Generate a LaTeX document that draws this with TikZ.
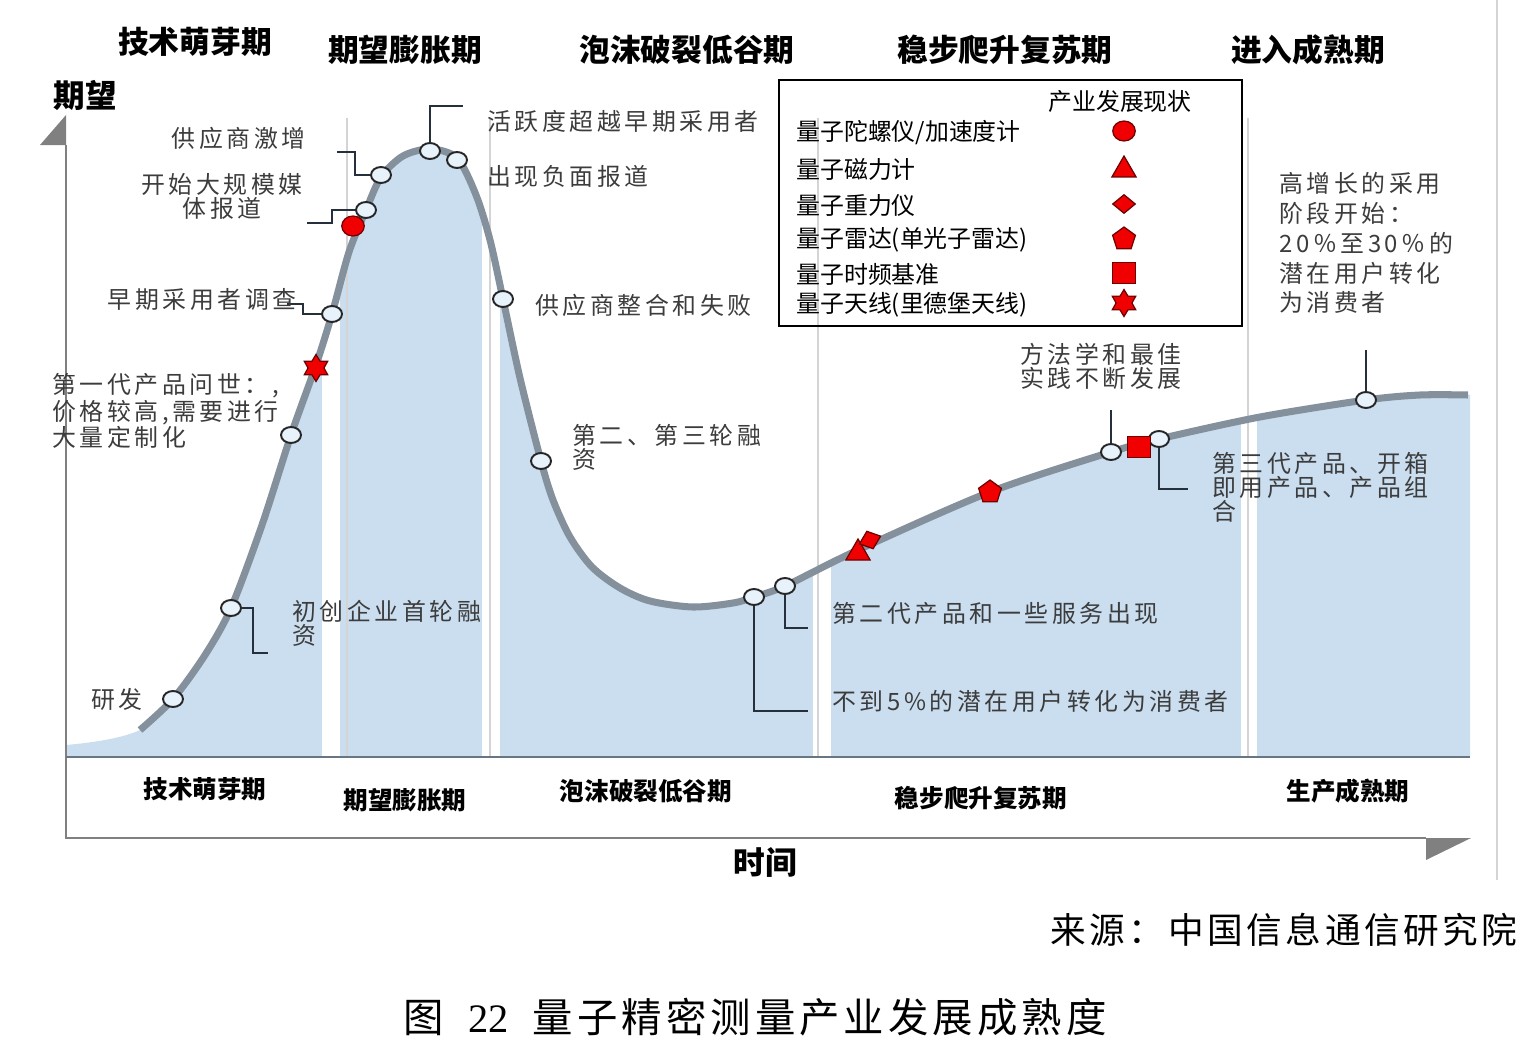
\documentclass[tikz,border=0pt]{standalone}
\usepackage{fontspec}
\setmainfont{Noto Sans CJK SC}
\newfontfamily\lblfont[LetterSpace=15]{Noto Sans CJK SC}
\newfontfamily\capfont[LetterSpace=10]{Noto Sans CJK SC}
\newfontfamily\numfont{Liberation Serif}
\usepackage{tikz}
\usetikzlibrary{shapes.geometric,positioning}
\definecolor{areablue}{RGB}{202,222,240}
\definecolor{curvegray}{RGB}{132,144,156}
\definecolor{axisgray}{RGB}{128,128,128}
\definecolor{basecol}{RGB}{104,118,132}
\definecolor{leadcol}{RGB}{38,48,60}
\definecolor{lblgray}{RGB}{60,60,60}
\definecolor{msfill}{RGB}{232,242,251}
\definecolor{mkred}{RGB}{240,0,0}
\definecolor{mkedge}{RGB}{110,0,0}
\definecolor{gridgray}{RGB}{212,212,212}

\begin{document}
\begin{tikzpicture}[x=0.02cm,y=-0.02cm,
  ms/.style={ellipse,draw=black!85,line width=1.1pt,fill=msfill,
             minimum width=0.4cm,minimum height=0.32cm,inner sep=0pt},
  mk/.style={draw=mkedge,fill=mkred,line width=0.7pt,inner sep=0pt},
  mkgyro/.style={mk,ellipse,minimum width=0.45cm,minimum height=0.4cm},
  mkmag/.style={mk,regular polygon,regular polygon sides=3,minimum size=0.56cm},
  mkgrav/.style={mk,diamond,minimum width=0.46cm,minimum height=0.38cm},
  mkradar/.style={mk,regular polygon,regular polygon sides=5,minimum size=0.48cm},
  mkclock/.style={mk,rectangle,minimum width=0.46cm,minimum height=0.42cm},
  mkant/.style={mk,star,star points=6,star point ratio=1.7,minimum size=0.54cm},
  lbl/.style={inner sep=0pt,text=lblgray,align=left,
              font=\lblfont\fontsize{13.6}{13.6}\selectfont},
  legtext/.style={inner sep=0pt,font=\fontsize{13.6}{15}\selectfont},
  phase/.style={inner sep=0pt,font=\bfseries\fontsize{17.5}{20}\selectfont},
  subphase/.style={inner sep=0pt,font=\bfseries\fontsize{14}{16}\selectfont},
  leader/.style={draw=leadcol,line width=1.1pt},
  divider/.style={draw=gridgray,line width=0.8pt}
]
\useasboundingbox (0,0) rectangle (1531,1061);

% Area under the hype curve
\fill[areablue] (66,745) .. controls (100,742) and (125,737) .. (140,730)
  -- plot[smooth] coordinates {(140,730) (173,699) (205,655) (231,608) (262,525)
     (291,435) (316,365) (332,314) (349,252) (366,210) (381,177) (403,156)
     (430,149) (457,158) (476,195) (490,240) (503,299) (520,378) (541,461)
     (553,500) (570,537) (592,567) (620,588) (650,601) (693,607) (733,603)
     (754,597) (785,586) (858,550) (990,492) (1111,452) (1159,439) (1260,417)
     (1366,400) (1420,395) (1470,395)}
  -- (1470,757) -- (66,757) -- cycle;

% Phase gaps and dividers
\fill[white] (322,110) rectangle (340,757);
\fill[white] (482,110) rectangle (500,757);
\fill[white] (813,110) rectangle (831,757);
\fill[white] (1241,110) rectangle (1257,757);
\draw[divider] (347,118) -- (347,757);
\draw[divider] (490,118) -- (490,757);
\draw[divider] (818,118) -- (818,757);
\draw[divider] (1248,118) -- (1248,757);
\draw[gridgray,line width=0.6pt] (1497,0) -- (1497,880);

% Axes
\draw[axisgray,line width=1.6pt] (66,145) -- (66,838) -- (1426,838);
\fill[axisgray] (40,145) -- (66,115) -- (66,145) -- cycle;
\fill[axisgray] (1426,838) -- (1471,838) -- (1426,860) -- cycle;
\draw[basecol,line width=1.6pt] (66,757) -- (1470,757);

% Hype curve
\draw[curvegray,line width=4pt] plot[smooth] coordinates {(140,730) (173,699)
     (205,655) (231,608) (262,525) (291,435) (316,365) (332,314) (349,252)
     (366,210) (381,177) (403,156) (430,149) (457,158) (476,195) (490,240)
     (503,299) (520,378) (541,461) (553,500) (570,537) (592,567) (620,588)
     (650,601) (693,607) (733,603) (754,597) (785,586) (858,550) (990,492)
     (1111,452) (1159,439) (1260,417) (1366,400) (1420,395) (1468,395)};

% Milestones
\node[ms] (mRD) at (173,699) {};
\node[ms] (mSeed) at (231,608) {};
\node[ms] (mGen1) at (291,435) {};
\node[ms] (mEarly) at (332,314) {};
\node[ms] (mMedia) at (366,210) {};
\node[ms] (mSurge) at (381,175) {};
\node[ms] (mActive) at (430,151) {};
\node[ms] (mNeg) at (457,160) {};
\node[ms] (mMerge) at (503,299) {};
\node[ms] (mRound) at (541,461) {};
\node[ms] (mFive) at (754,597) {};
\node[ms] (mGen2) at (785,586) {};
\node[ms] (mMethod) at (1111,452) {};
\node[ms] (mGen3) at (1159,439) {};
\node[ms] (mGrowth) at (1366,400) {};

% Industry status markers on the curve
\node[mkant] (pAnt) at (316,368) {};
\node[mkgyro] (pGyro) at (353,226) {};
\node[mkmag] (pMag) at (858,553) {};
\node[mkgrav,rotate=20] (pGrav) at (870,540) {};
\node[mkradar] (pRadar) at (990,492) {};
\node[mkclock] (pClock) at (1139,447) {};

% Leader lines
\coordinate (kSurge) at (355,152);
\coordinate (eSurge) at (337,152);
\coordinate (kMedia) at (332,223);
\coordinate (eMedia) at (307,223);
\coordinate (kEarly) at (303,304);
\coordinate (eEarly) at (287,304);
\coordinate (eActive) at (463,106);
\coordinate (kSeed) at (253,653);
\coordinate (eSeed) at (268,653);
\coordinate (eFive) at (808,711);
\coordinate (eGen2) at (808,628);
\coordinate (eMethod) at (1111,410);
\coordinate (eGen3) at (1188,489);
\coordinate (eGrowth) at (1366,350);
\draw[leader] (mSurge) -| (kSurge) -- (eSurge);
\draw[leader] (mMedia) -| (kMedia) -- (eMedia);
\draw[leader] (mEarly) -| (kEarly) -- (eEarly);
\draw[leader] (mActive) |- (eActive);
\draw[leader] (mSeed) -| (kSeed) -- (eSeed);
\draw[leader] (mFive) |- (eFive);
\draw[leader] (mGen2) |- (eGen2);
\draw[leader] (mMethod) -- (eMethod);
\draw[leader] (mGen3) |- (eGen3);
\draw[leader] (mGrowth) -- (eGrowth);

% Milestone labels
\node[lbl,anchor=east] (tSurge) at (306,138) {供应商激增};
\node[lbl,anchor=north,align=center] (tMedia) at (222,173) {开始大规模媒\\体报道};
\node[lbl,anchor=west] (tActive) at (487,121) {活跃度超越早期采用者};
\node[lbl,anchor=west] (tNeg) at (487,176) {出现负面报道};
\node[lbl,anchor=east] (tEarly) at (297,299) {早期采用者调查};
\node[lbl,anchor=west] (tMerge) at (535,305) {供应商整合和失败};
\node[lbl,anchor=north west] (tGen1) at (52,373) {第一代产品问世：,\\价格较高,需要进行\\大量定制化};
\node[lbl,anchor=north west] (tSeed) at (292,600) {初创企业首轮融\\资};
\node[lbl,anchor=east] (tRD) at (143,699) {研发};
\node[lbl,anchor=north west] (tRound) at (572,424) {第二、第三轮融\\资};
\node[lbl,anchor=west] (tFive) at (832,701) {不到5\%的潜在用户转化为消费者};
\node[lbl,anchor=west] (tGen2) at (832,613) {第二代产品和一些服务出现};
\node[lbl,anchor=north west] (tMethod) at (1020,343) {方法学和最佳\\实践不断发展};
\node[lbl,anchor=north west] (tGen3) at (1212,452) {第三代产品、开箱\\即用产品、产品组\\合};
\node[lbl,anchor=north west,font=\lblfont\fontsize{13.6}{17}\selectfont] (tGrowth) at (1279,172)
  {高增长的采用\\阶段开始：\\20％至30％的\\潜在用户转化\\为消费者};

% Phase headings
\node[phase] (hTrigger) at (195,42) {技术萌芽期};
\node[phase] (hPeak) at (405,50) {期望膨胀期};
\node[phase] (hTrough) at (687,50) {泡沫破裂低谷期};
\node[phase] (hSlope) at (1005,50) {稳步爬升复苏期};
\node[phase] (hPlateau) at (1308,50) {进入成熟期};

% Axis titles
\node[phase,font=\bfseries\fontsize{18}{20}\selectfont] (yTitle) at (85,95) {期望};
\node[phase,font=\bfseries\fontsize{18}{20}\selectfont] (xTitle) at (765,862) {时间};

% Phase names under the baseline
\node[subphase] (sTrigger) at (205,789) {技术萌芽期};
\node[subphase] (sPeak) at (405,800) {期望膨胀期};
\node[subphase] (sTrough) at (646,791) {泡沫破裂低谷期};
\node[subphase] (sSlope) at (981,798) {稳步爬升复苏期};
\node[subphase] (sPlateau) at (1348,791) {生产成熟期};

% Legend
\draw[line width=1.6pt] (779,80) rectangle (1242,326);
\node[legtext] (lgTitle) at (1120,101) {产业发展现状};
\node[legtext,anchor=west] (lgGyro) at (796,133) {量子陀螺仪/加速度计};
\node[legtext,anchor=west] (lgMag) at (796,169) {量子磁力计};
\node[legtext,anchor=west] (lgGrav) at (796,205) {量子重力仪};
\node[legtext,anchor=west] (lgRadar) at (796,240) {量子雷达(单光子雷达)};
\node[legtext,anchor=west] (lgClock) at (796,274) {量子时频基准};
\node[legtext,anchor=west] (lgAnt) at (796,305) {量子天线(里德堡天线)};
\node[mkgyro] (kGyro) at (1124,131) {};
\node[mkmag] (kMag) at (1124,170) {};
\node[mkgrav] (kGrav) at (1124,204) {};
\node[mkradar] (kRadar) at (1124,239) {};
\node[mkclock] (kClock) at (1124,273) {};
\node[mkant] (kAnt) at (1124,303) {};

% Source and caption
\node[inner sep=0pt,anchor=east,font=\capfont\fontsize{20.3}{22}\selectfont] (source) at (1518,930) {来源：中国信息通信研究院};
\node[inner sep=0pt,font=\capfont\fontsize{23}{25}\selectfont] (caption) at (755,1017)
  {图\hspace{0.6em}{\numfont 22}\hspace{0.6em}量子精密测量产业发展成熟度};
\end{tikzpicture}
\end{document}
